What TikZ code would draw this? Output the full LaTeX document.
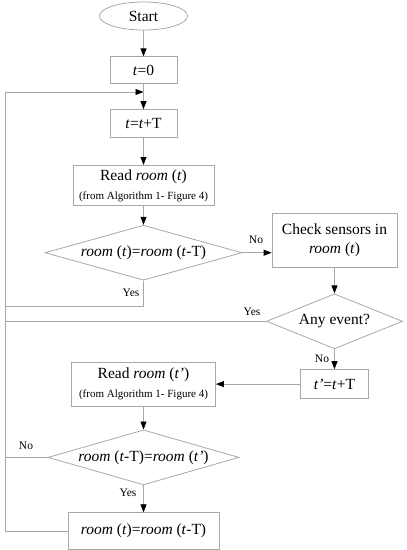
\documentclass[tikz,border=0pt]{standalone}
\usepackage{fontspec}
\setmainfont{Liberation Serif}
\usepackage{tikz}
\usetikzlibrary{positioning,arrows.meta,shapes.geometric}
\definecolor{framegray}{gray}{0.66}
\newcommand{\fromalg}{{\fontsize{11}{13}\selectfont (from Algorithm 1- Figure 4)}}

\begin{document}
\begin{tikzpicture}[x=1pt,y=-1pt,
			font=\fontsize{15.5}{19}\selectfont,
			box/.style={draw=framegray, line width=0.8pt, rectangle, align=center, inner sep=2pt},
			decision/.style={draw=framegray, line width=0.8pt, diamond, aspect=3.5, inner sep=0pt, align=center},
			term/.style={draw=framegray, line width=0.8pt, ellipse, minimum width=88pt, minimum height=28pt},
			lbl/.style={font=\fontsize{11.5}{13}\selectfont, inner sep=0pt},
			wire/.style={draw=framegray, line width=0.8pt},
			arrow/.style={wire, -{Triangle[length=8pt,width=6pt,color=black]}}]
			
			\useasboundingbox (0,0) rectangle (407,550);
			
			\node[term] (start) at (143.5,16) {Start};
			\node[box, below=26pt of start, minimum width=67pt, minimum height=27pt] (tzero) {\textit{t}=0};
			\node[box, below=25pt of tzero, minimum width=67pt, minimum height=28pt] (tinc) {\textit{t}=\textit{t}+T};
			\node[box, below=27pt of tinc, minimum width=141pt, minimum height=40pt] (read) {Read \textit{room} (\textit{t})\\\fromalg};
			\node[decision, below=19pt of read, minimum width=197pt, minimum height=55pt] (same) {\textit{room} (\textit{t})=\textit{room} (\textit{t}-T)};
			\node[box, minimum width=125pt, minimum height=54pt] (check) at (334.5,240) {Check sensors in\\\textit{room} (\textit{t})};
			\node[decision, below=26pt of check, minimum width=136pt, minimum height=55pt] (event) {Any event?};
			\node[box, below=20pt of event, minimum width=68pt, minimum height=29pt] (tprime) {\textit{t'}=\textit{t}+T};
			\node[box, minimum width=144pt, minimum height=44pt] (readp) at (read |- tprime) {Read \textit{room} (\textit{t'})\\\fromalg};
			\node[decision, below=23pt of readp, minimum width=191pt, minimum height=55pt] (samep) {\textit{room} (\textit{t}-T)=\textit{room} (\textit{t'})};
			\node[box, below=27pt of samep, minimum width=151pt, minimum height=37pt] (update) {\textit{room} (\textit{t})=\textit{room} (\textit{t}-T)};
			
			\coordinate (loopin) at (143.5,92);
			\coordinate (lefttop) at (5,92);
			\coordinate (yesturn) at ([yshift=-26pt]same.south);
			
			\node[lbl] (no1) at (256,240) {No};
			\node[lbl] (yes1) at (131,293) {Yes};
			\node[lbl] (yes2) at (252,312) {Yes};
			\node[lbl] (no2) at (322,359) {No};
			\node[lbl] (no3) at (26,446) {No};
			\node[lbl] (yes3) at (128,493) {Yes};
			
			\draw[arrow] (start) -- (tzero);
			\draw[arrow] (tzero) -- (tinc);
			\draw[arrow] (tinc) -- (read);
			\draw[arrow] (read) -- (same);
			\draw[arrow] (same.east) -- (same.east -| check.west);
			\draw[arrow] (check) -- (event);
			\draw[arrow] (event) -- (tprime);
			\draw[arrow] (tprime) -- (readp);
			\draw[arrow] (readp) -- (samep);
			\draw[arrow] (samep) -- (update);
			
			\draw[arrow] (update.west) -| (lefttop) -- (loopin);
			\draw[wire] (same.south) -- (yesturn) -- (yesturn -| lefttop);
			\draw[wire] (event.west) -- (event.west -| lefttop);
			\draw[wire] (samep.west) -- (samep.west -| lefttop);
			
		\end{tikzpicture}
\end{document}
